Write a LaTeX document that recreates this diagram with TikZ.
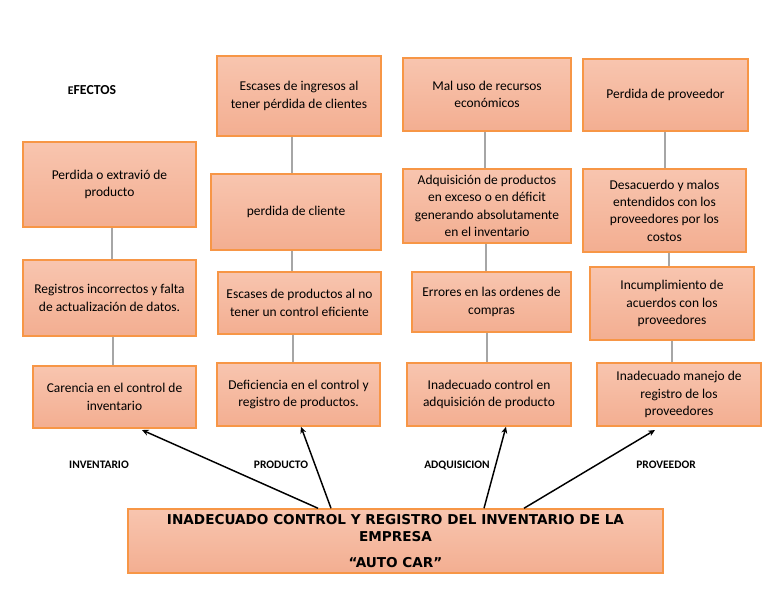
\documentclass[tikz,border=0pt]{standalone}
\usepackage{fontspec}
\setmainfont{Carlito}
\newfontfamily\titlefont{DejaVu Sans}
\usetikzlibrary{arrows.meta}
\definecolor{boxline}{HTML}{F79646}
\definecolor{boxtop}{HTML}{F8C5AF}
\definecolor{boxbot}{HTML}{F3AE91}
\definecolor{connc}{HTML}{A6A6A6}
\tikzset{
  box/.style={draw=boxline, line width=1.1pt, top color=boxtop, bottom color=boxbot,
    align=center, inner sep=2pt, font=\fontsize{10.1}{13}\selectfont},
  sz/.style 2 args={minimum width=#1*0.75pt, minimum height=#2*0.75pt},
  conn/.style={draw=connc, line width=1.1pt},
  arr/.style={draw=black, line width=1.1pt, -{Stealth[length=5pt,width=4.5pt]}},
  lbl/.style={font=\fontsize{8.6}{10}\selectfont\bfseries, inner sep=0pt}
}
\begin{document}
\begin{tikzpicture}[x=0.75pt, y=-0.75pt]
\useasboundingbox (0,0) rectangle (768,594);

\node[inner sep=0pt, font=\fontsize{10.3}{12}\selectfont\bfseries] (ef) at (92,90) {{\fontsize{8.8}{10}\selectfont E}FECTOS};

% column 1
\node[box, sz={173}{85}] (a1) at (109.5,184.5) {Perdida o extravió de\\producto};
\node[box, sz={173}{76}] (a2) at (109.5,298) {Registros incorrectos y falta\\de actualización de datos.};
\node[box, sz={163}{62}] (a3) at (114.5,397) {Carencia en el control de\\inventario};
% column 2
\node[box, sz={164}{80}] (b1) at (299,96) {Escases de ingresos al\\tener pérdida de clientes};
\node[box, sz={170}{76}] (b2) at (296,212) {perdida de cliente};
\node[box, sz={163}{62}] (b3) at (299.5,303) {Escases de productos al no\\tener un control eficiente};
\node[box, sz={163}{63}] (b4) at (298.5,394.5) {Deficiencia en el control y\\registro de productos.};
% column 3
\node[box, sz={168}{73}] (c1) at (487,94.5) {Mal uso de recursos\\económicos};
\node[box, sz={168}{74}] (c2) at (487,206) {Adquisición de productos\\en exceso o en déficit\\generando absolutamente\\en el inventario};
\node[box, sz={159}{60}] (c3) at (491.5,302) {Errores en las ordenes de\\compras};
\node[box, sz={164}{63}] (c4) at (489,394.5) {Inadecuado control en\\adquisición de producto};
% column 4
\node[box, sz={165}{72}] (d1) at (665.5,95) {Perdida de proveedor};
\node[box, sz={163}{83}] (d2) at (664.5,210.5) {Desacuerdo y malos\\entendidos con los\\proveedores por los\\costos};
\node[box, sz={164}{73}] (d3) at (672,303.5) {Incumplimiento de\\acuerdos con los\\proveedores};
\node[box, sz={164}{63}] (d4) at (679,394.5) {Inadecuado manejo de\\registro de los\\proveedores};

% main problem
\node[box, sz={535}{64}, font=\titlefont\fontsize{10.2}{12.75}\selectfont\bfseries] (main) at (395.5,541)
  {INADECUADO CONTROL Y REGISTRO DEL INVENTARIO DE LA\\EMPRESA\\[6.5pt]“AUTO CAR”};

% category labels
\node[lbl] (l1) at (99,465) {INVENTARIO};
\node[lbl] (l2) at (281,465) {PRODUCTO};
\node[lbl] (l3) at (457,465) {ADQUISICION};
\node[lbl] (l4) at (666,465) {PROVEEDOR};

% grey connectors
\draw[conn] (a1.south -| 112,0) -- (a2.north -| 112,0);
\draw[conn] (a2.south -| 113,0) -- (a3.north -| 113,0);
\draw[conn] (b1.south -| 292,0) -- (b2.north -| 292,0);
\draw[conn] (b2.south -| 292,0) -- (b3.north -| 292,0);
\draw[conn] (b3.south -| 293,0) -- (b4.north -| 293,0);
\draw[conn] (c1.south -| 485,0) -- (c2.north -| 485,0);
\draw[conn] (c2.south -| 486,0) -- (c3.north -| 486,0);
\draw[conn] (c3.south -| 487,0) -- (c4.north -| 487,0);
\draw[conn] (d1.south -| 665,0) -- (d2.north -| 665,0);
\draw[conn] (d2.south -| 669,0) -- (d3.north -| 669,0);
\draw[conn] (d3.south -| 672,0) -- (d4.north -| 672,0);

% arrows
\draw[arr] (main.north -| 318,0) -- (142,430);
\draw[arr] (main.north -| 331,0) -- (b4.south -| 301,0);
\draw[arr] (main.north -| 484,0) -- (c4.south -| 506,0);
\draw[arr] (main.north -| 524,0) -- (655,430);
\end{tikzpicture}
\end{document}
